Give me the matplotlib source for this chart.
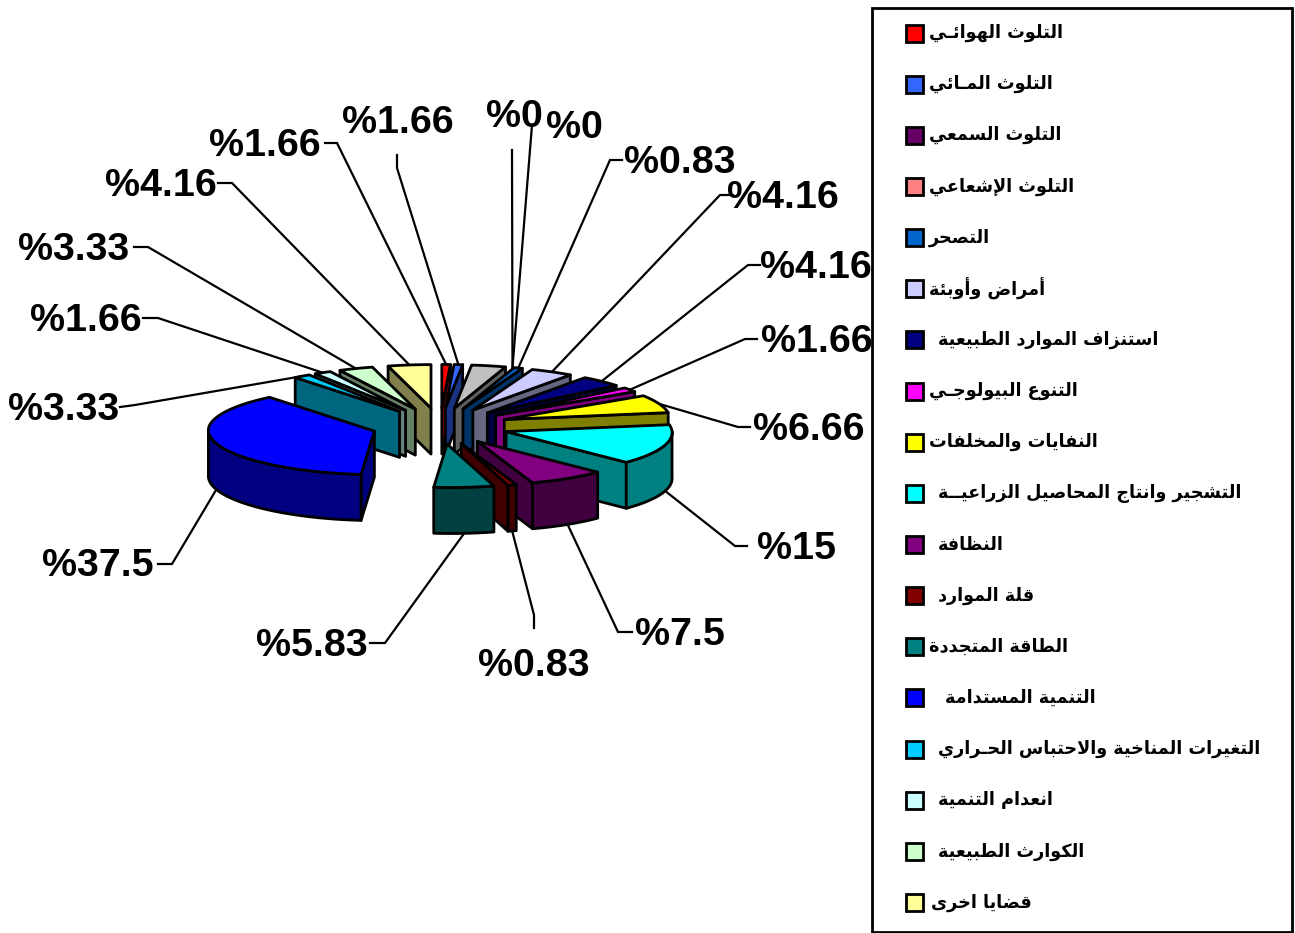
import numpy as np
import matplotlib
matplotlib.use("Agg")
import matplotlib.pyplot as plt
from matplotlib.patches import Polygon, Rectangle

# legend texts, same order as the slices
categories = ["التلوث الهوائـي", "التلوث المـائي", "التلوث السمعي", "التلوث الإشعاعي", "التصحر",
              "أمراض وأوبئة", "استنزاف الموارد الطبيعية", "التنوع البيولوجـي", "النفايات والمخلفات",
              "التشجير وانتاج المحاصيل الزراعيــة", "النظافة", "قلة الموارد", "الطاقة المتجددة",
              "التنمية المستدامة", "التغيرات المناخية والاحتباس الحـراري", "انعدام التنمية",
              "الكوارث الطبيعية", "قضايا اخرى"]
colors = ["#FF0000", "#3366FF", "#660066", "#FF8080", "#0066CC", "#CCCCFF", "#000080", "#FF00FF", "#FFFF00",
          "#00FFFF", "#800080", "#800000", "#008080", "#0000FF", "#00CCFF", "#CCFFFF", "#CCFFCC", "#FFFF99"]
# numbers printed next to the slices
printed = ["1.66", "1.66", "0", "0", "0.83", "4.16", "4.16", "1.66", "6.66",
           "15", "7.5", "0.83", "5.83", "37.5", "3.33", "1.66", "3.33", "4.16"]
# widths of the slices as they are drawn (percent of the circle), the printed numbers don't always agree
shares = [0.83, 0.83, 0, 0, 0.83, 4.16, 4.16, 1.66, 6.66,
          15, 7.5, 0.83, 5.83, 37.5, 1.66, 1.66, 3.33, 4.16]
# the grey slice has no legend entry, it sits after the second one
grey_share = 3.33
grey_color = "#C0C0C0"

# where the labels sit and where the leader lines bend
label_pos = [(265, 146), (398, 123), (514, 117), (574, 128), (680, 163), (783, 198), (816, 268), (817, 342), (809, 430),
             (796, 549), (680, 635), (534, 666), (312, 646), (98, 566), (64, 410), (86, 321), (74, 250), (161, 186)]
bend_pos = [(337, 143), (397, 168), (512, 150), (532, 125), (610, 160), (720, 195), (748, 265), (745, 339), (738, 427),
            (735, 546), (618, 632), (534, 615), (385, 643), (172, 564), (135, 405), (158, 318), (148, 247), (232, 183)]
stub_pos = [(325, 143), (397, 155), (512, 150), (532, 125), (622, 160), (733, 195), (760, 265), (757, 339), (750, 427),
            (747, 546), (632, 632), (534, 628), (370, 643), (158, 564), (120, 407), (143, 318), (134, 247), (218, 183)]

# pie geometry in pixels
cx, cy = 440, 426
rx, ry = 166, 43.5
explode = 0.415
depth = 46
lean = 0.09  # the front of the pie drifts to the right a bit

# ---- arabic shaping, matplotlib doesn't do it ----
dual = "ئبتثجحخسشصضطظعغفقكلمنهي"
dual_base = [0xFE89, 0xFE8F, 0xFE95, 0xFE99, 0xFE9D, 0xFEA1, 0xFEA5, 0xFEB1, 0xFEB5, 0xFEB9, 0xFEBD,
             0xFEC1, 0xFEC5, 0xFEC9, 0xFECD, 0xFED1, 0xFED5, 0xFED9, 0xFEDD, 0xFEE1, 0xFEE5, 0xFEE9, 0xFEF1]
right = "ءآأؤإاةدذرزوى"
right_base = [0xFE80, 0xFE81, 0xFE83, 0xFE85, 0xFE87, 0xFE8D, 0xFE93, 0xFEA9, 0xFEAB, 0xFEAD, 0xFEAF, 0xFEED, 0xFEEF]
lam_alef = {"آ": 0xFEF5, "أ": 0xFEF7, "إ": 0xFEF9, "ا": 0xFEFB}
kashida = "\u0640"

def joins_next(c):
    return c in dual or c == kashida

def joins_prev(c):
    return c in dual or (c in right and c != "ء") or c == kashida

def shape(text):
    out = []
    i = 0
    while i < len(text):
        c = text[i]
        prev_j = i > 0 and joins_next(text[i - 1])
        if c == "ل" and i + 1 < len(text) and text[i + 1] in lam_alef:
            out.append(chr(lam_alef[text[i + 1]] + (1 if prev_j else 0)))
            i += 2
            continue
        next_j = i + 1 < len(text) and joins_prev(text[i + 1])
        if c in dual:
            base = dual_base[dual.index(c)]
            if prev_j and next_j:
                out.append(chr(base + 3))
            elif prev_j:
                out.append(chr(base + 1))
            elif next_j:
                out.append(chr(base + 2))
            else:
                out.append(chr(base))
        elif c in right and c != "ء":
            out.append(chr(right_base[right.index(c)] + (1 if prev_j else 0)))
        elif c == "ء":
            out.append(chr(0xFE80))
        else:
            out.append(c)
        i += 1
    return "".join(reversed(out))

# ---- slices ----
def point(t, r=1.0):
    return r * rx * np.sin(t), -r * ry * np.cos(t)

def leaned(xs, ys):
    return np.asarray(xs) + lean * np.maximum(0, np.asarray(ys) - cy), np.asarray(ys)

def darker(col):
    return tuple(0.5 * v for v in matplotlib.colors.to_rgb(col))

all_shares = shares[:2] + [grey_share] + shares[2:]
all_colors = colors[:2] + [grey_color] + colors[2:]
edges = np.radians(np.cumsum([0] + all_shares) * 3.6)
edges = edges * 2 * np.pi / edges[-1]

fig = plt.figure(figsize=(12.95, 9.33), dpi=100)
ax = fig.add_axes([0, 0, 1, 1])
ax.set_xlim(0, 1295)
ax.set_ylim(933, 0)
ax.axis("off")

def add_poly(pts, col, z):
    ax.add_patch(Polygon(pts, closed=True, facecolor=col, edgecolor="black", linewidth=2.0, joinstyle="round", zorder=z))

mids = (edges[:-1] + edges[1:]) / 2
order = np.argsort(-np.cos(mids))
z = 3.0
for i in order:
    t0, t1 = edges[i], edges[i + 1]
    if t1 - t0 <= 0:
        continue
    ox, oy = point(mids[i], explode)
    ax0, ay0 = leaned(cx + ox, cy + oy)
    ts = np.linspace(t0, t1, 40)
    px, py = point(ts)
    ax1, ay1 = leaned(cx + ox + px, cy + oy + py)
    arc = np.column_stack([ax1, ay1])
    top = np.vstack([[ax0, ay0], arc])
    side = darker(all_colors[i])
    # flat cut faces
    if np.sin(t1) > 0:
        add_poly([(ax0, ay0), arc[-1], arc[-1] + [0, depth], (ax0, ay0 + depth)], side, z)
    if np.sin(t0) < 0:
        add_poly([(ax0, ay0), arc[0], arc[0] + [0, depth], (ax0, ay0 + depth)], side, z)
    # outer wall, only the front half shows
    a, b = max(t0, np.pi / 2), min(t1, 3 * np.pi / 2)
    if b > a:
        tr = np.linspace(a, b, 40)
        qx, qy = point(tr)
        ux, uy = leaned(cx + ox + qx, cy + oy + qy)
        upper = np.column_stack([ux, uy])
        lower = upper + [0, depth]
        add_poly(np.vstack([upper, lower[::-1]]), side, z + 0.1)
    add_poly(top, all_colors[i], z + 0.2)
    z += 1

# leader lines and labels
legend_to_drawn = [0, 1] + list(range(3, 20))
for k in range(len(printed)):
    j = legend_to_drawn[k]
    m = mids[j]
    ox, oy = point(m, explode)
    ex, ey = point(m)
    tx, ty = leaned(cx + ox + ex, cy + oy + ey)
    if np.cos(m) < 0:
        ty = ty + depth
    ax.plot([stub_pos[k][0], bend_pos[k][0], tx], [stub_pos[k][1], bend_pos[k][1], ty],
            color="black", lw=1.6, zorder=2, solid_joinstyle="miter")
    ax.text(label_pos[k][0], label_pos[k][1], "%" + printed[k], fontsize=28.4, fontweight="bold",
            family="Liberation Sans", ha="center", va="center", color="black", zorder=60)

# legend box
ax.add_patch(Rectangle((872, 8), 420, 924, facecolor="white", edgecolor="black", linewidth=2.0, zorder=70))
text_x = [929, 929, 929, 929, 929, 929, 938, 929, 929, 938, 938, 938, 929, 945, 938, 938, 938, 931]
for k in range(len(categories)):
    y = 33 + k * 51.15
    ax.add_patch(Rectangle((905.5, y - 8.5), 17, 17, facecolor=colors[k], edgecolor="black", linewidth=2.0, zorder=71))
    ax.text(text_x[k], y, shape(categories[k]), fontsize=12.7, fontweight="bold", family="DejaVu Sans",
            ha="left", va="center", color="black", zorder=71)

fig.savefig("out.png", dpi=100)
